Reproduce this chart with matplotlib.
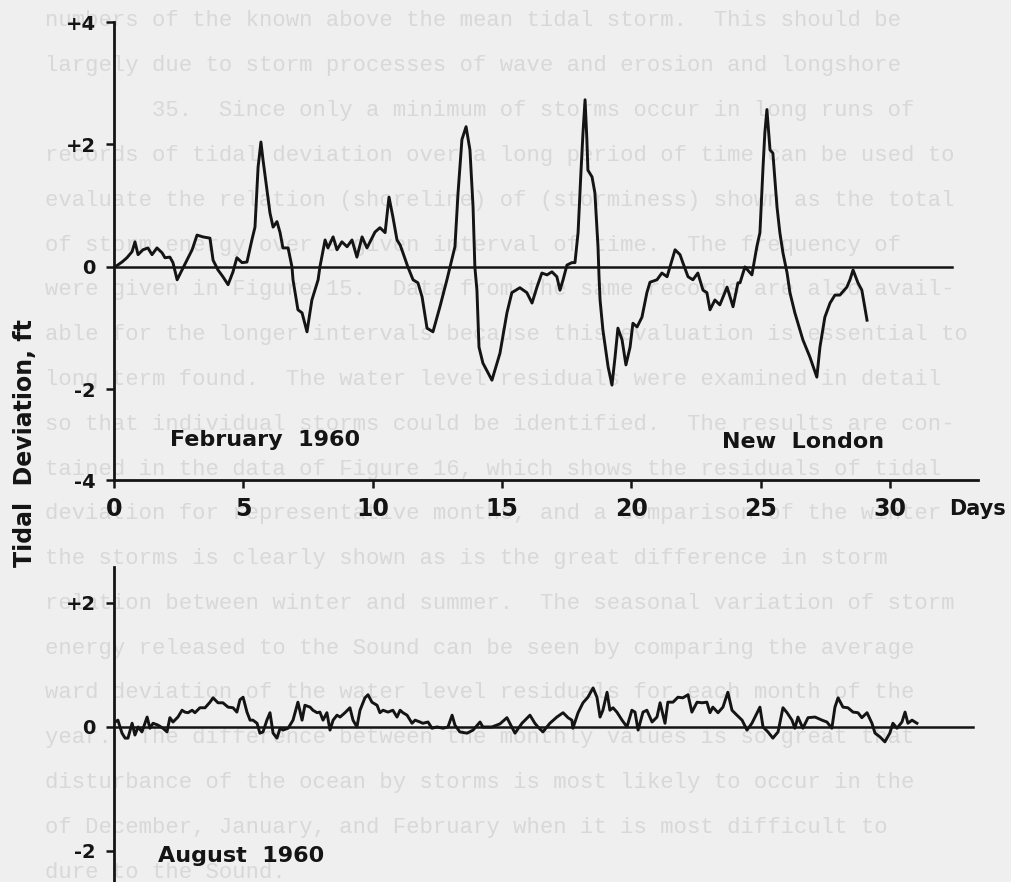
import matplotlib
matplotlib.use("Agg")
import matplotlib.pyplot as plt

# ---------------- data ----------------
feb_days = [0.04, 0.31, 0.50, 0.70, 0.81, 0.93, 1.12, 1.31, 1.47, 1.66, 1.86, 1.97, 2.16, 2.28, 2.44,
            2.63, 2.82, 3.02, 3.21, 3.44, 3.71, 3.83, 4.02, 4.21, 4.41, 4.60, 4.75, 4.95, 5.14, 5.33,
            5.45, 5.57, 5.68, 5.76, 5.91, 6.03, 6.15, 6.30, 6.42, 6.53, 6.73, 6.88, 6.92, 7.11, 7.27,
            7.46, 7.65, 7.89, 7.96, 8.16, 8.27, 8.47, 8.62, 8.81, 9.01, 9.20, 9.39, 9.59, 9.78, 9.97,
            10.09, 10.28, 10.48, 10.63, 10.78, 10.94, 11.06, 11.17, 11.36, 11.56, 11.75, 11.91, 12.10,
            12.33, 12.60, 12.87, 12.99, 13.18, 13.30, 13.45, 13.61, 13.76, 13.88, 13.95, 14.03, 14.11,
            14.26, 14.61, 14.92, 15.19, 15.38, 15.69, 15.96, 16.16, 16.35, 16.54, 16.74, 16.93, 17.12,
            17.24, 17.36, 17.51, 17.70, 17.82, 17.94, 18.05, 18.13, 18.21, 18.28, 18.32, 18.48, 18.59,
            18.71, 18.75, 18.79, 18.90, 19.10, 19.25, 19.37, 19.48, 19.64, 19.79, 19.95, 20.06, 20.22,
            20.41, 20.60, 20.72, 20.99, 21.18, 21.38, 21.57, 21.69, 21.88, 21.99, 22.19, 22.38, 22.57,
            22.77, 22.92, 23.04, 23.23, 23.42, 23.70, 23.93, 24.12, 24.20, 24.39, 24.66, 24.85, 24.97,
            25.09, 25.16, 25.24, 25.36, 25.47, 25.63, 25.74, 25.86, 26.02, 26.13, 26.32, 26.63, 26.90,
            27.17, 27.29, 27.48, 27.68, 27.87, 28.06, 28.33, 28.45, 28.57, 28.76, 28.91, 29.11]
feb_vals = [0.00, 0.08, 0.15, 0.25, 0.41, 0.20, 0.28, 0.31, 0.20, 0.31, 0.23, 0.15, 0.16, 0.07, -0.21,
            -0.05, 0.11, 0.28, 0.52, 0.49, 0.47, 0.11, -0.05, -0.16, -0.29, -0.08, 0.15, 0.07, 0.08, 0.44,
            0.65, 1.63, 2.04, 1.75, 1.26, 0.88, 0.65, 0.74, 0.56, 0.31, 0.31, 0.00, -0.21, -0.70, -0.75,
            -1.06, -0.54, -0.21, 0.00, 0.44, 0.31, 0.49, 0.28, 0.41, 0.33, 0.44, 0.16, 0.49, 0.31, 0.47,
            0.57, 0.64, 0.56, 1.14, 0.82, 0.44, 0.36, 0.23, 0.00, -0.21, -0.26, -0.49, -1.00,
            -1.06, -0.65, -0.21, 0.00, 0.33, 1.21, 2.08, 2.29, 1.91, 0.98, 0.00, -0.38, -1.31,
            -1.57, -1.85, -1.41, -0.75, -0.42, -0.34, -0.42, -0.59, -0.33, -0.10, -0.13, -0.08, -0.16,
            -0.38, -0.21, 0.03, 0.07, 0.07, 0.56, 1.54, 2.19, 2.73, 2.08, 1.58, 1.47, 1.21,
            0.33, -0.16, -0.54, -1.03, -1.63, -1.93, -1.47, -1.00, -1.19, -1.60, -1.31, -0.92, -0.98,
            -0.82, -0.42, -0.25, -0.21, -0.10, -0.16, 0.11, 0.28, 0.20, 0.07, -0.16, -0.21, -0.10,
            -0.38, -0.42, -0.70, -0.54, -0.62, -0.33, -0.65, -0.26, -0.26, 0.00, -0.13, 0.33, 0.56,
            1.63, 2.19, 2.57, 1.91, 1.86, 0.98, 0.56, 0.23, -0.10, -0.42, -0.75, -1.19, -1.47,
            -1.80, -1.31, -0.82, -0.59, -0.46, -0.46, -0.33, -0.21, -0.05, -0.26, -0.38, -0.87]

aug_days = [0.04, 0.15, 0.31, 0.43, 0.54, 0.70, 0.81, 0.93, 1.08, 1.28, 1.39, 1.51, 1.70, 1.89, 2.05,
            2.16, 2.28, 2.47, 2.63, 2.74, 2.86, 3.02, 3.13, 3.32, 3.52, 3.71, 3.83, 4.02, 4.21, 4.41,
            4.60, 4.75, 4.87, 4.99, 5.14, 5.26, 5.37, 5.53, 5.64, 5.76, 5.91, 6.03, 6.15, 6.30, 6.42,
            6.53, 6.73, 6.92, 7.11, 7.27, 7.38, 7.58, 7.69, 7.85, 7.96, 8.08, 8.23, 8.35, 8.47, 8.62,
            8.74, 8.93, 9.12, 9.24, 9.39, 9.51, 9.70, 9.82, 9.97, 10.17, 10.28, 10.40, 10.59, 10.78,
            10.94, 11.06, 11.17, 11.33, 11.52, 11.64, 11.83, 11.94, 12.14, 12.29, 12.49, 12.72, 12.91,
            13.07, 13.18, 13.37, 13.65, 13.88, 14.15, 14.26, 14.61, 14.92, 15.19, 15.50, 15.77, 16.08,
            16.27, 16.39, 16.58, 16.85, 17.12, 17.36, 17.55, 17.70, 17.74, 17.94, 18.13, 18.32, 18.52,
            18.67, 18.79, 18.90, 19.06, 19.17, 19.29, 19.44, 19.64, 19.83, 20.02, 20.14, 20.26, 20.45,
            20.60, 20.80, 20.99, 21.11, 21.30, 21.41, 21.61, 21.80, 21.99, 22.19, 22.34, 22.54, 22.73,
            22.92, 23.04, 23.15, 23.35, 23.54, 23.73, 23.89, 24.08, 24.28, 24.47, 24.66, 24.86, 24.97,
            25.09, 25.28, 25.47, 25.67, 25.86, 26.02, 26.21, 26.32, 26.44, 26.63, 26.83, 27.10, 27.37,
            27.56, 27.75, 27.87, 27.99, 28.18, 28.37, 28.57, 28.76, 28.91, 29.11, 29.30, 29.42, 29.61,
            29.80, 29.99, 30.11, 30.27, 30.46, 30.58, 30.69, 30.85, 31.04]
aug_vals = [0.08, 0.11, -0.10, -0.18, -0.18, 0.06, -0.13, 0.00, -0.08, 0.16, -0.02, 0.06, 0.03, -0.02, -0.08,
            0.15, 0.08, 0.16, 0.27, 0.24, 0.23, 0.27, 0.23, 0.31, 0.31, 0.40, 0.47, 0.39, 0.39, 0.32,
            0.31, 0.24, 0.44, 0.48, 0.24, 0.11, 0.11, 0.06, -0.10, -0.08, 0.11, 0.23, -0.10, -0.18, -0.02,
            -0.05, -0.02, 0.11, 0.40, 0.11, 0.35, 0.32, 0.27, 0.23, 0.24, 0.11, 0.23, -0.05, 0.11, 0.19,
            0.16, 0.23, 0.31, 0.11, 0.00, 0.27, 0.47, 0.52, 0.40, 0.35, 0.23, 0.27, 0.24, 0.27,
            0.16, 0.27, 0.23, 0.19, 0.06, 0.11, 0.08, 0.06, 0.08, -0.02, 0.00, -0.02, 0.00,
            0.19, 0.03, -0.08, -0.10, -0.05, 0.08, 0.00, 0.00, 0.05, 0.15, -0.10, 0.06, 0.19,
            0.06, 0.00, -0.08, 0.06, 0.16, 0.23, 0.15, 0.11, -0.02, 0.23, 0.39, 0.48, 0.63,
            0.48, 0.16, 0.27, 0.56, 0.27, 0.31, 0.24, 0.11, 0.00, 0.27, 0.24, -0.05, 0.24,
            0.27, 0.08, 0.16, 0.39, 0.06, 0.40, 0.40, 0.48, 0.47, 0.52, 0.24, 0.40, 0.39,
            0.40, 0.23, 0.32, 0.23, 0.32, 0.56, 0.27, 0.19, 0.11, -0.05, 0.06, 0.23, 0.32,
            0.00, -0.08, -0.18, -0.08, 0.31, 0.23, 0.11, -0.02, 0.16, -0.02, 0.15, 0.16, 0.11,
            0.08, -0.02, 0.32, 0.47, 0.32, 0.31, 0.24, 0.23, 0.15, 0.23, 0.06, -0.10, -0.16,
            -0.24, -0.10, 0.06, -0.02, 0.08, 0.24, 0.06, 0.11, 0.06]

x_ticks = [0, 5, 10, 15, 20, 25, 30]
top_y_ticks = [4, 2, 0, -2, -3.48]
top_y_labels = ['+4', '+2', '0', '-2', '-4']
bot_y_ticks = [2, 0, -2]
bot_y_labels = ['+2', '0', '-2']

# faint bleed-through typewriter text from the reverse page
page_lines = [
    "numbers of the known above the mean tidal storm.  This should be",
    "largely due to storm processes of wave and erosion and longshore",
    "        35.  Since only a minimum of storms occur in long runs of",
    "records of tidal deviation over a long period of time can be used to",
    "evaluate the relation (shoreline) of (storminess) shown as the total",
    "of storm energy over a given interval of time.  The frequency of",
    "were given in Figure 15.  Data from the same records are also avail-",
    "able for the longer intervals because this evaluation is essential to",
    "long term found.  The water level residuals were examined in detail",
    "so that individual storms could be identified.  The results are con-",
    "tained in the data of Figure 16, which shows the residuals of tidal",
    "deviation for representative months, and a comparison of the winter",
    "the storms is clearly shown as is the great difference in storm",
    "relation between winter and summer.  The seasonal variation of storm",
    "energy released to the Sound can be seen by comparing the average",
    "ward deviation of the water level residuals for each month of the",
    "year.  The difference between the monthly values is so great that",
    "disturbance of the ocean by storms is most likely to occur in the",
    "of December, January, and February when it is most difficult to",
    "dure to the Sound.",
]

# ---------------- figure ----------------
W, H = 1011, 882
BG = '#efefef'
INK = '#141414'
fig = plt.figure(figsize=(W / 100, H / 100), dpi=100, facecolor=BG)

for i, line in enumerate(page_lines):
    fig.text(45 / W, 1 - (21 + 44.8 * i) / H, line, family='Liberation Mono', fontsize=16,
             color='#d8d8d8', va='center', ha='left', zorder=-5)

label_font = dict(family='DejaVu Sans', fontweight='bold', color=INK)

# ---- top panel: February 1960 ----
ax1 = fig.add_axes([114 / W, 1 - 480 / H, 864 / W, 458 / H])
ax1.patch.set_alpha(0)
ax1.set_xlim(0, 33.4)
ax1.set_ylim(-3.48, 4)
ax1.plot(feb_days, feb_vals, color=INK, lw=2.1, solid_joinstyle='round')
ax1.plot([0, 32.4], [0, 0], color=INK, lw=1.8)
for s in ('top', 'right'):
    ax1.spines[s].set_visible(False)
for s in ('left', 'bottom'):
    ax1.spines[s].set_linewidth(2.0)
    ax1.spines[s].set_color(INK)
ax1.set_xticks(x_ticks)
ax1.set_xticklabels([str(t) for t in x_ticks])
ax1.set_yticks(top_y_ticks)
ax1.set_yticklabels(top_y_labels)
ax1.tick_params(axis='x', direction='out', length=6, width=1.8, color=INK, pad=6)
ax1.tick_params(axis='y', direction='out', length=6, width=1.8, color=INK, pad=7)
for lab in ax1.get_xticklabels():
    lab.set_fontsize(17); lab.set_fontweight('bold'); lab.set_color(INK)
for lab in ax1.get_yticklabels():
    lab.set_fontsize(14); lab.set_fontweight('bold'); lab.set_color(INK)
ax1.text(0.0648, 0.074, 'February  1960', transform=ax1.transAxes, fontsize=16,
         va='baseline', ha='left', **label_font)
ax1.text(0.7037, 0.070, 'New  London', transform=ax1.transAxes, fontsize=16,
         va='baseline', ha='left', **label_font)
fig.text(949 / W, 1 - 515 / H, 'Days', fontsize=15, va='baseline', ha='left', **label_font)

# ---- bottom panel: August 1960 ----
ax2 = fig.add_axes([114 / W, 1 - 913 / H, 864 / W, (913 - 567) / H])
ax2.patch.set_alpha(0)
ax2.set_xlim(0, 33.4)
ax2.set_ylim(-3.0, 2.58)
ax2.plot(aug_days, aug_vals, color=INK, lw=2.1, solid_joinstyle='round')
ax2.plot([0, 33.2], [0, 0], color=INK, lw=1.8)
for s in ('top', 'right', 'bottom'):
    ax2.spines[s].set_visible(False)
ax2.spines['left'].set_linewidth(2.0)
ax2.spines['left'].set_color(INK)
ax2.set_xticks([])
ax2.set_yticks(bot_y_ticks)
ax2.set_yticklabels(bot_y_labels)
ax2.tick_params(axis='y', direction='out', length=6, width=1.8, color=INK, pad=7)
for lab in ax2.get_yticklabels():
    lab.set_fontsize(14); lab.set_fontweight('bold'); lab.set_color(INK)
fig.text(158 / W, 1 - 862 / H, 'August  1960', fontsize=16, va='baseline', ha='left', **label_font)

# shared y label
fig.text(25 / W, 1 - 443 / H, 'Tidal  Deviation, ft', rotation=90, fontsize=17,
         va='center', ha='center', **label_font)

fig.savefig('out.png', dpi=100, facecolor=BG)
